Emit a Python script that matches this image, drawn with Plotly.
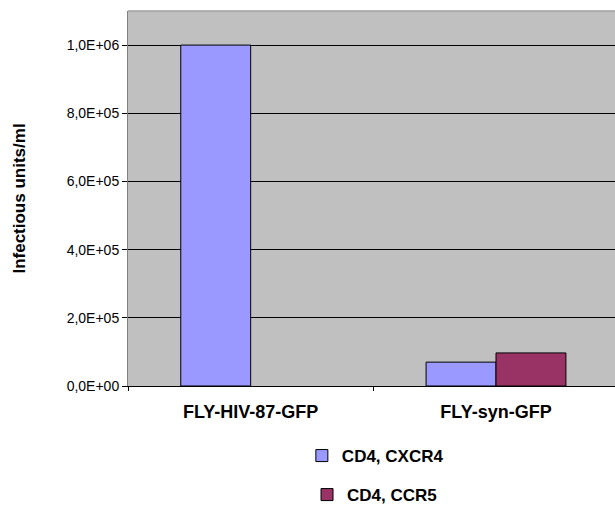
import plotly.graph_objects as go

categories = ["FLY-HIV-87-GFP", "FLY-syn-GFP"]
series_names = ["CD4, CXCR4", "CD4, CCR5"]
cxcr4_values = [1.0e6, 7.0e4]
ccr5_values = [None, 9.7e4]
y_tickvals = [0, 2e5, 4e5, 6e5, 8e5, 1e6]
y_ticktext = ["0,0E+00", "2,0E+05", "4,0E+05", "6,0E+05", "8,0E+05", "1,0E+06"]
colors = ["#9999FF", "#993366"]

FONT = "Liberation Sans, Arial, sans-serif"

fig = go.Figure()
fig.add_trace(go.Bar(x=categories, y=cxcr4_values, name=series_names[0],
                     marker=dict(color=colors[0], line=dict(color="black", width=1)),
                     legend="legend", showlegend=True))
fig.add_trace(go.Bar(x=categories, y=ccr5_values, name=series_names[1],
                     marker=dict(color=colors[1], line=dict(color="black", width=1)),
                     legend="legend2", showlegend=True))

fig.update_layout(
    width=615, height=508,
    margin=dict(l=128, r=0, t=11, b=122, autoexpand=False),
    paper_bgcolor="white", plot_bgcolor="#C0C0C0",
    barmode="group", bargap=0.43, bargroupgap=0,
    showlegend=True,
    font=dict(family=FONT, size=14, color="black"),
    legend=dict(x=0.357, y=-0.1867, xanchor="left", yanchor="middle",
                bgcolor="rgba(0,0,0,0)", font=dict(family=FONT, size=17, weight="bold")),
    legend2=dict(x=0.3676, y=-0.2907, xanchor="left", yanchor="middle",
                 bgcolor="rgba(0,0,0,0)", font=dict(family=FONT, size=17, weight="bold")),
    xaxis=dict(range=[-0.5, 1.485], showgrid=False, showline=True, linecolor="black",
               linewidth=1, ticks="outside", tickson="boundaries", ticklen=4,
               tickcolor="black", tickfont=dict(family=FONT, size=18, weight="bold"),
               ticklabelstandoff=9, automargin=False),
    yaxis=dict(range=[0, 1.1e6], tickvals=y_tickvals, ticktext=y_ticktext,
               showgrid=True, gridcolor="black", gridwidth=1, zeroline=False,
               showline=True, linecolor="#808080", linewidth=1,
               ticks="outside", ticklen=5, tickcolor="black",
               tickfont=dict(family=FONT, size=14),
               title=dict(text="Infectious units/ml", standoff=36,
                          font=dict(family=FONT, size=17, weight="bold")),
               automargin=False),
    shapes=[dict(type="line", xref="paper", yref="paper", x0=0, x1=1, y0=1, y1=1,
                 line=dict(color="#A0A0A0", width=1.5))],
)

fig.write_html("out.html", config={"displayModeBar": False},
               post_script="document.body.style.margin='0px';document.body.style.overflow='hidden';")
